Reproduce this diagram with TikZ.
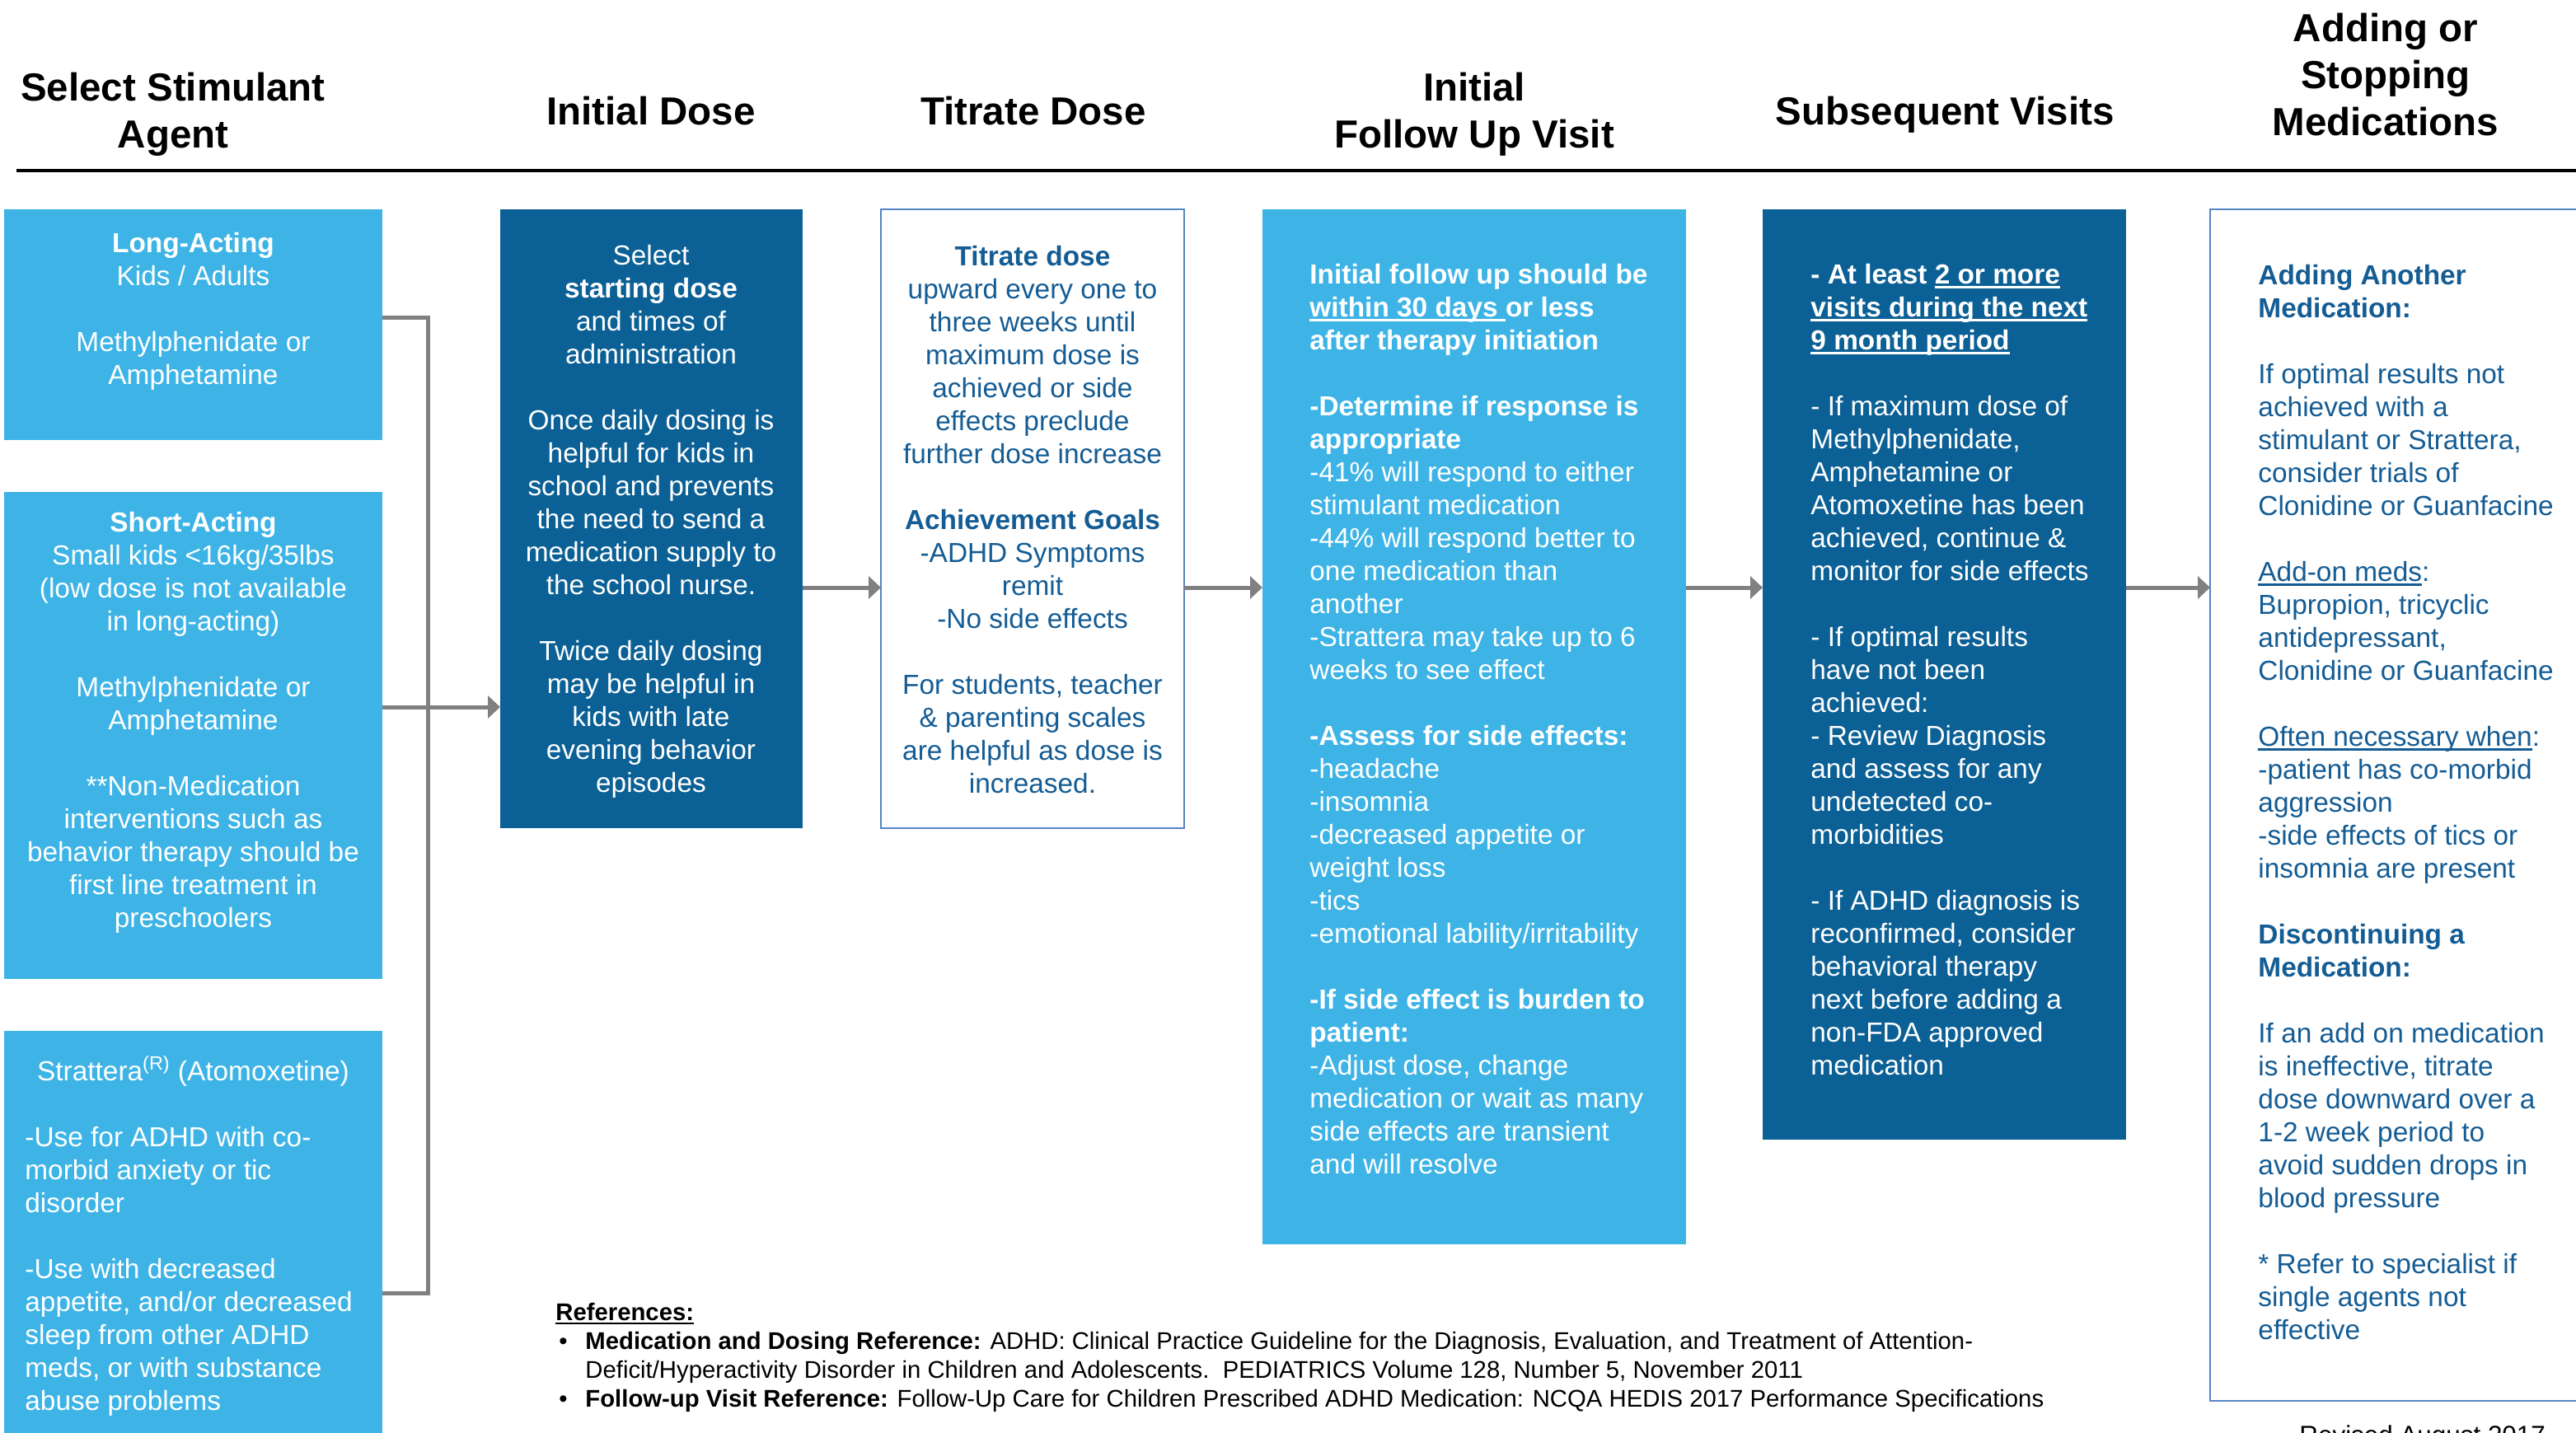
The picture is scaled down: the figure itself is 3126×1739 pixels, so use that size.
\documentclass[tikz,border=0pt]{standalone}
\usepackage{fontspec}
\setmainfont{Liberation Sans}
\usetikzlibrary{arrows.meta}
\newsavebox{\myulbox}
\newcommand{\myul}[1]{\sbox{\myulbox}{#1}\rlap{\rule[-2.6pt]{\wd\myulbox}{1.1pt}}\usebox{\myulbox}}
\definecolor{lb}{HTML}{3EB4E6}
\definecolor{dk}{HTML}{0B6095}
\definecolor{tb}{HTML}{145C94}
\definecolor{bd}{HTML}{5584C4}
\definecolor{gr}{HTML}{808080}
\tikzset{
  box/.style={inner sep=0pt, outer sep=0pt, anchor=north west},
  lbox/.style={box, fill=lb},
  dbox/.style={box, fill=dk},
  wbox/.style={box, draw=bd, line width=1pt, fill=white},
  body/.style={inner sep=0pt, font=\fontsize{16.7}{20}\selectfont},
  head/.style={inner sep=0pt, font=\fontsize{23.75}{28.5}\selectfont\bfseries},
  refs/.style={inner sep=0pt, font=\fontsize{14.65}{17.5}\selectfont},
  arr/.style={draw=gr, line width=2.5pt, -{Triangle[length=7.5pt,width=13.5pt]}},
  conn/.style={draw=gr, line width=2.5pt, line join=miter},
}
\begin{document}
\begin{tikzpicture}[x=0.5pt, y=-0.5pt]
\useasboundingbox (0,0) rectangle (3126,1739);
% headers
\node[head, anchor=north, align=center] (h1) at (210,86) {\rule{0pt}{18pt}Select Stimulant\\Agent};
\node[head, anchor=base] (h2) at (790,152) {Initial Dose};
\node[head, anchor=base] (h3) at (1254,152) {Titrate Dose};
\node[head, anchor=north, align=center] (h4) at (1789,86) {\rule{0pt}{18pt}Initial\\Follow Up Visit};
\node[head, anchor=base] (h5) at (2360,152) {Subsequent Visits};
\node[head, anchor=north, align=center] (h6) at (2895,14) {\rule{0pt}{18pt}Adding or\\Stopping\\Medications};
\coordinate (hl1) at (20,207);
\coordinate (hl2) at (3126,207);
\draw[line width=2pt] (hl1) -- (hl2);
% boxes
\node[lbox, minimum width=229.5pt, minimum height=140pt] (long) at (5,254) {};
\node[lbox, minimum width=229.5pt, minimum height=295.5pt] (short) at (5,597) {};
\node[lbox, minimum width=229.5pt, minimum height=247pt] (strat) at (5,1251) {};
\node[dbox, minimum width=183.5pt, minimum height=375.5pt] (dose) at (607,254) {};
\node[wbox, minimum width=184pt, minimum height=375.5pt] (titr) at (1069,254) {};
\node[lbox, minimum width=257pt, minimum height=628pt] (fu) at (1532,254) {};
\node[dbox, minimum width=220.5pt, minimum height=564.5pt] (subs) at (2139,254) {};
\node[wbox, minimum width=224pt, minimum height=723pt] (add) at (2682,254) {};
% box texts
\node[body, anchor=north, align=center, text=white] (t1) at (234.5,280) {\rule{0pt}{13pt}\textbf{Long-Acting}\\ Kids / Adults\\[20pt] Methylphenidate or\\ Amphetamine};
\node[body, anchor=north, align=center, text=white] (t2) at (234.5,619) {\rule{0pt}{13pt}\textbf{Short-Acting}\\ Small kids <16kg/35lbs\\ (low dose is not available\\ in long-acting)\\[20pt] Methylphenidate or\\ Amphetamine\\[20pt] **Non-Medication\\ interventions such as\\ behavior therapy should be\\ first line treatment in\\ preschoolers};
\node[body, anchor=base, text=white] (t3a) at (234.5,1311) {Strattera\textsuperscript{(R)} (Atomoxetine)};
\node[body, anchor=north west, align=left, text=white] (t3b) at (30,1365) {\rule{0pt}{13pt}-Use for ADHD with co-\\ morbid anxiety or tic\\ disorder\\[20pt] -Use with decreased\\ appetite, and/or decreased\\ sleep from other ADHD\\ meds, or with substance\\ abuse problems};
\node[body, anchor=north, align=center, text=white] (t4) at (790,295) {\rule{0pt}{13pt}Select\\ \textbf{starting dose}\\ and times of\\ administration\\[20pt] Once daily dosing is\\ helpful for kids in\\ school and prevents\\ the need to send a\\ medication supply to\\ the school nurse.\\[20pt] Twice daily dosing\\ may be helpful in\\ kids with late\\ evening behavior\\ episodes};
\node[body, anchor=north, align=center, text=tb] (t5) at (1253,296) {\rule{0pt}{13pt}\textbf{Titrate dose}\\ upward every one to\\ three weeks until\\ maximum dose is\\ achieved or side\\ effects preclude\\ further dose increase\\[20pt] \textbf{Achievement Goals}\\ -ADHD Symptoms\\ remit\\ -No side effects\\[20pt] For students, teacher\\ \& parenting scales\\ are helpful as dose is\\ increased.};
\node[body, anchor=north west, align=left, text=white] (t6) at (1589,318) {\rule{0pt}{13pt}\textbf{Initial follow up should be}\\ \textbf{\myul{within 30 days\ }or less}\\ \textbf{after therapy initiation}\\[20pt] \textbf{-Determine if response is}\\ \textbf{appropriate}\\ -41\% will respond to either\\ stimulant medication\\ -44\% will respond better to\\ one medication than\\ another\\ -Strattera may take up to 6\\ weeks to see effect\\[20pt] \textbf{-Assess for side effects:}\\ -headache\\ -insomnia\\ -decreased appetite or\\ weight loss\\ -tics\\ -emotional lability/irritability\\[20pt] \textbf{-If side effect is burden to}\\ \textbf{patient:}\\ -Adjust dose, change\\ medication or wait as many\\ side effects are transient\\ and will resolve};
\node[body, anchor=north west, align=left, text=white] (t7) at (2197,318) {\rule{0pt}{13pt}\textbf{- At least \myul{2 or more}}\\ \textbf{\myul{visits during the next}}\\ \textbf{\myul{9 month period}}\\[20pt] - If maximum dose of\\ Methylphenidate,\\ Amphetamine or\\ Atomoxetine has been\\ achieved, continue \&\\ monitor for side effects\\[20pt] - If optimal results\\ have not been\\ achieved:\\ - Review Diagnosis\\ and assess for any\\ undetected co-\\ morbidities\\[20pt] - If ADHD diagnosis is\\ reconfirmed, consider\\ behavioral therapy\\ next before adding a\\ non-FDA approved\\ medication};
\node[body, anchor=north west, align=left, text=tb] (t8) at (2740,319) {\rule{0pt}{13pt}\textbf{Adding Another}\\ \textbf{Medication:}\\[20pt] If optimal results not\\ achieved with a\\ stimulant or Strattera,\\ consider trials of\\ Clonidine or Guanfacine\\[20pt] \myul{Add-on meds}:\\ Bupropion, tricyclic\\ antidepressant,\\ Clonidine or Guanfacine\\[20pt] \myul{Often necessary when}:\\ -patient has co-morbid\\ aggression\\ -side effects of tics or\\ insomnia are present\\[20pt] \textbf{Discontinuing a}\\ \textbf{Medication:}\\[20pt] If an add on medication\\ is ineffective, titrate\\ dose downward over a\\ 1-2 week period to\\ avoid sudden drops in\\ blood pressure\\[20pt] * Refer to specialist if\\ single agents not\\ effective};
% connectors
\coordinate (bTop) at (519,385);
\coordinate (bBot) at (519,1569);
\coordinate (r1y) at (540,858);
\coordinate (r2y) at (1000,713);
\draw[conn] (long.east |- bTop) -- (bTop) -- (bBot) -- (strat.east |- bBot);
\draw[arr] (short.east |- r1y) -- (dose.west |- r1y);
\draw[arr] (dose.east |- r2y) -- (titr.west |- r2y);
\draw[arr] (titr.east |- r2y) -- (fu.west |- r2y);
\draw[arr] (fu.east |- r2y) -- (subs.west |- r2y);
\draw[arr] (subs.east |- r2y) -- (add.west |- r2y);
% references
\node[refs, anchor=base west] (r0) at (674,1602) {\textbf{\myul{References:}}};
\node[refs, anchor=base west] (b1) at (678,1637) {\textbullet};
\node[refs, anchor=base west] (ref1) at (710,1637) {\textbf{Medication and Dosing Reference:} ADHD: Clinical Practice Guideline for the Diagnosis, Evaluation, and Treatment of Attention-};
\node[refs, anchor=base west] (ref2) at (710,1672) {Deficit/Hyperactivity Disorder in Children and Adolescents.\ \ PEDIATRICS Volume 128, Number 5, November 2011};
\node[refs, anchor=base west] (b2) at (678,1707) {\textbullet};
\node[refs, anchor=base west] (ref3) at (710,1707) {\textbf{Follow-up Visit Reference:} Follow-Up Care for Children Prescribed ADHD Medication: NCQA HEDIS 2017 Performance Specifications};
\node[inner sep=0pt, anchor=base west, font=\fontsize{15.7}{19}\selectfont] (rev) at (2790,1752) {Revised August 2017};
\end{tikzpicture}
\end{document}
